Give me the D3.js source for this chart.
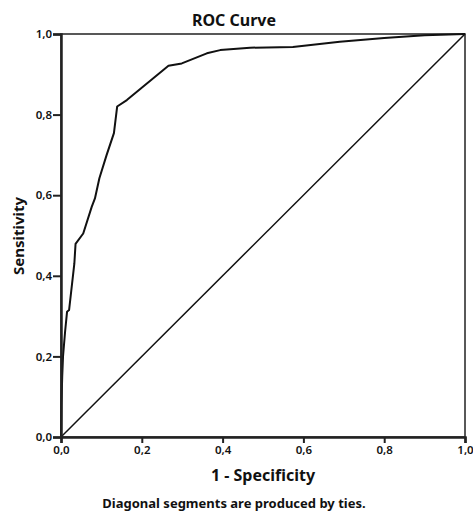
<!DOCTYPE html>
<html>
<head>
<meta charset="utf-8">
<script src="https://cdn.jsdelivr.net/npm/d3@7"></script>
<style>
  body { margin: 0; background: #fff; }
  text { font-family: "Noto Sans", sans-serif; fill: #111; }
</style>
</head>
<body>
<script>
// ROC curve, values
const fpr = [0, 0.001, 0.003, 0.005, 0.010, 0.015, 0.020, 0.033, 0.036, 0.055, 0.076, 0.084,
  0.095, 0.113, 0.131, 0.139, 0.163, 0.266, 0.299, 0.361, 0.394, 0.468, 0.574, 0.69, 0.80, 0.90, 1];
const tpr = [0, 0.08, 0.15, 0.20, 0.26, 0.311, 0.315, 0.43, 0.479, 0.505, 0.571, 0.592,
  0.642, 0.70, 0.754, 0.82, 0.836, 0.921, 0.927, 0.952, 0.960, 0.966, 0.968, 0.981, 0.99, 0.997, 1];
const tickValues = [0, 0.2, 0.4, 0.6, 0.8, 1.0];
const fmt = d => d3.format(".1f")(d).replace(".", ",");

const width = 473, height = 513;
const margin = { top: 34, right: 8, bottom: 76, left: 61 };

const svg = d3.select("body").append("svg")
  .attr("width", width)
  .attr("height", height);

const x = d3.scaleLinear().domain([0, 1]).range([margin.left, width - margin.right]);
const y = d3.scaleLinear().domain([0, 1]).range([height - margin.bottom, margin.top]);

// frame
svg.append("rect")
  .attr("x", x(0)).attr("y", y(1))
  .attr("width", x(1) - x(0)).attr("height", y(0) - y(1))
  .attr("fill", "none")
  .attr("stroke", "#222")
  .attr("stroke-width", 1.5);

// reference diagonal
svg.append("line")
  .attr("x1", x(0)).attr("y1", y(0))
  .attr("x2", x(1)).attr("y2", y(1))
  .attr("stroke", "#111")
  .attr("stroke-width", 1.5);

// curve
const pts = fpr.map((f, i) => [f, tpr[i]]);
svg.append("path")
  .datum(pts)
  .attr("fill", "none")
  .attr("stroke", "#111")
  .attr("stroke-width", 2)
  .attr("stroke-linejoin", "round")
  .attr("d", d3.line().x(d => x(d[0])).y(d => y(d[1])));

// axes
const xAxis = svg.append("g")
  .attr("transform", `translate(0,${y(0)})`)
  .call(d3.axisBottom(x).tickValues(tickValues).tickFormat(fmt).tickSize(6).tickPadding(3));
const yAxis = svg.append("g")
  .attr("transform", `translate(${x(0)},0)`)
  .call(d3.axisLeft(y).tickValues(tickValues).tickFormat(fmt).tickSize(8).tickPadding(1));

[xAxis, yAxis].forEach(g => {
  g.select(".domain").attr("stroke", "#222").attr("stroke-width", 2.5);
  g.selectAll(".tick line").attr("stroke", "#222").attr("stroke-width", 2);
  g.selectAll(".tick text")
    .attr("font-family", "Noto Sans, sans-serif")
    .attr("font-size", 11.5)
    .attr("font-weight", 600)
    .attr("fill", "#111");
});

// titles
svg.append("text")
  .attr("x", 234).attr("y", 26)
  .attr("text-anchor", "middle")
  .attr("font-size", 16)
  .attr("font-weight", "bold")
  .text("ROC Curve");

svg.append("text")
  .attr("x", (x(0) + x(1)) / 2).attr("y", 481)
  .attr("text-anchor", "middle")
  .attr("font-size", 16)
  .attr("font-weight", "bold")
  .text("1 - Specificity");

svg.append("text")
  .attr("transform", `translate(24,236) rotate(-90)`)
  .attr("text-anchor", "middle")
  .attr("font-size", 15)
  .attr("font-weight", "bold")
  .text("Sensitivity");

svg.append("text")
  .attr("x", 234).attr("y", 508)
  .attr("text-anchor", "middle")
  .attr("font-size", 13)
  .attr("font-weight", "bold")
  .text("Diagonal segments are produced by ties.");
</script>
</body>
</html>
